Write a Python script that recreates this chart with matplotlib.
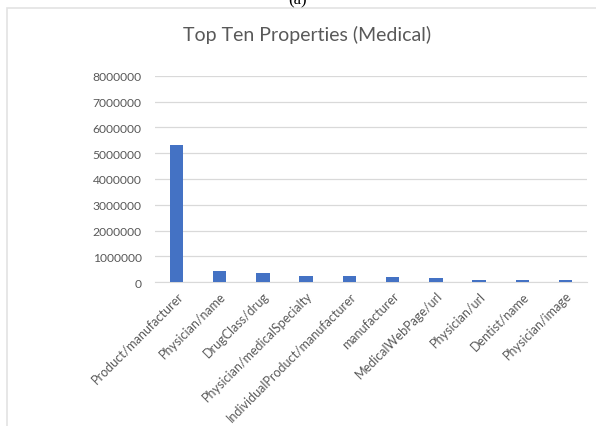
import matplotlib
matplotlib.use("Agg")
from matplotlib import pyplot as plt
from matplotlib.patches import Rectangle
import numpy as np

# data
properties = ["Product/manufacturer", "Physician/name", "DrugClass/drug",
              "Physician/medicalSpecialty", "IndividualProduct/manufacturer",
              "manufacturer", "MedicalWebPage/url", "Physician/url",
              "Dentist/name", "Physician/image"]
counts = [5330000, 440000, 350000, 230000, 230000, 180000, 140000, 100000, 100000, 100000]
yticks = [0, 1000000, 2000000, 3000000, 4000000, 5000000, 6000000, 7000000, 8000000]

plt.rcParams['font.family'] = ['Lato', 'DejaVu Sans']
grey = "#595959"

fig = plt.figure(figsize=(5.96, 4.27), dpi=100)
ax = fig.add_axes([0.260, 0.337, 0.725, 0.483])

x = np.arange(len(properties))
ax.bar(x, counts, width=0.31, color="#4472C4", zorder=3)

ax.set_xlim(-0.5, len(properties) - 0.5)
ax.set_ylim(0, 8000000)
ax.set_yticks(yticks)
ax.set_yticklabels([str(v) for v in yticks], fontsize=8.7, color=grey)
ax.set_xticks(x)
ax.set_xticklabels(properties, rotation=45, ha="right", rotation_mode="anchor",
                   fontsize=9.0, color=grey)
ax.tick_params(axis="y", length=0, pad=9.5)
ax.tick_params(axis="x", length=0, pad=5)
ax.yaxis.grid(True, color="#d9d9d9", linewidth=0.9, zorder=0)
for s in ["top", "right", "left"]:
    ax.spines[s].set_visible(False)
ax.spines["bottom"].set_color("#d9d9d9")

fig.text(0.515, 0.918, "Top Ten Properties (Medical)", ha="center", va="center",
         fontsize=14, color=grey)

# chart frame and the cut-off caption above it
fig.patches.append(Rectangle((7 / 596, -0.1), 1.2, 1 - 9 / 427 + 0.1,
                             transform=fig.transFigure, fill=False,
                             edgecolor="#e3e3e3", linewidth=1.2))
fig.text(0.5, 1.0, "(a)", ha="center", va="center", fontsize=12,
         family="Liberation Serif", color="black")

fig.savefig("out.png", dpi=100)
